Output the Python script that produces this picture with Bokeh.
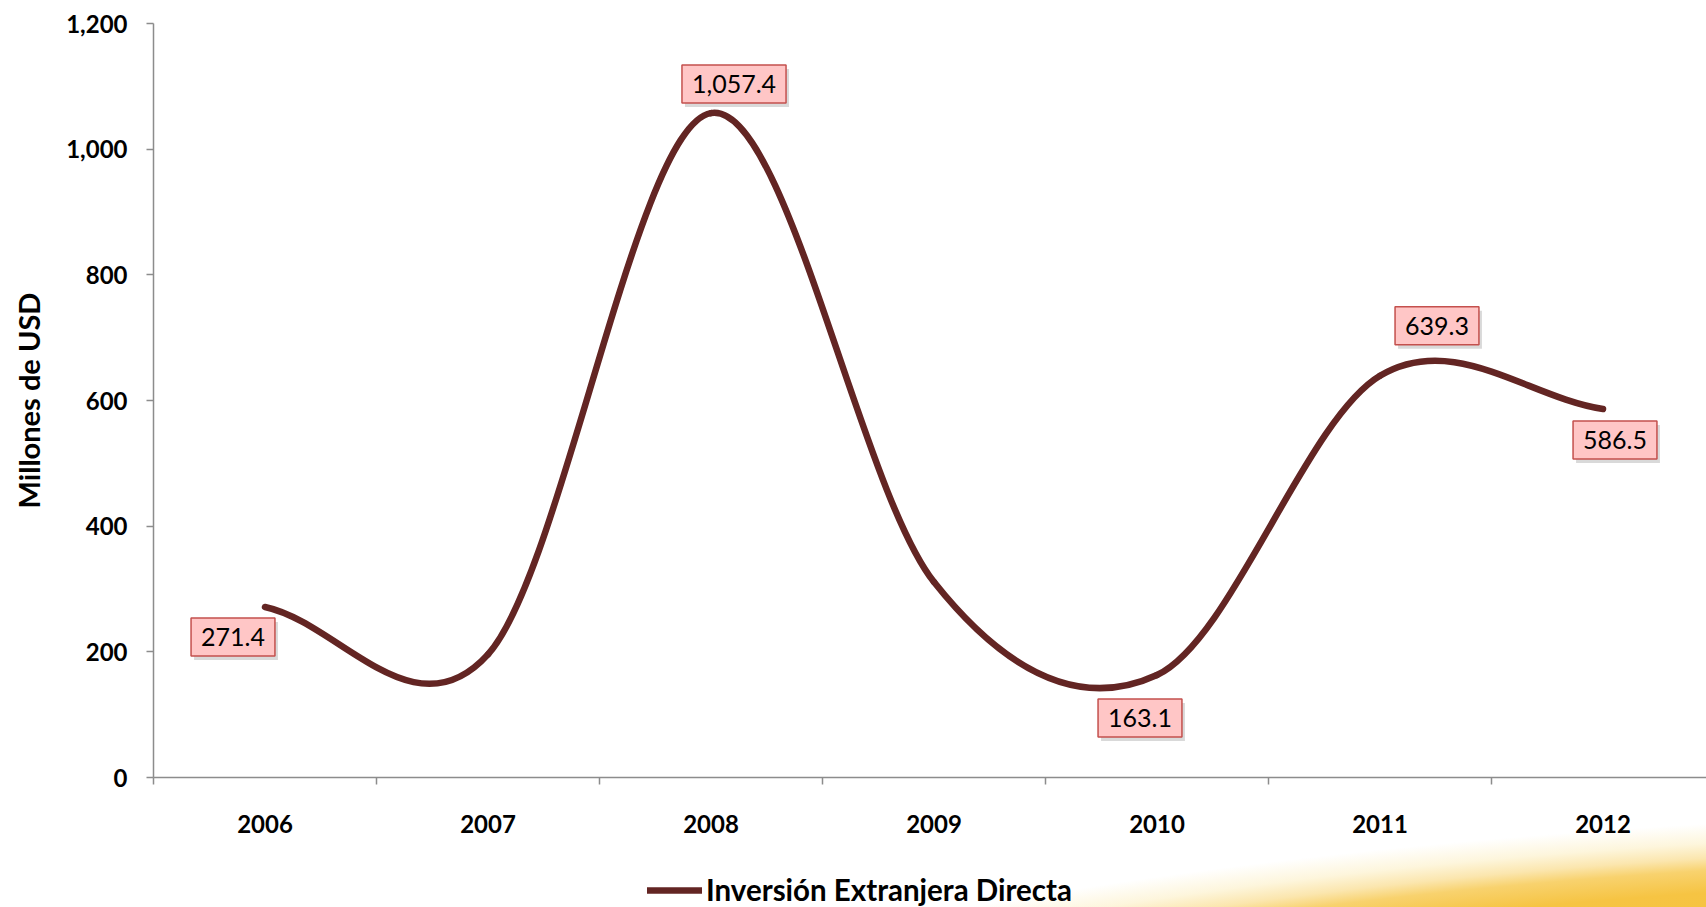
import numpy as np
from bokeh.plotting import figure
from bokeh.layouts import column
from bokeh.models import (Range1d, FixedTicker, NumeralTickFormatter, Legend, LegendItem,
                          ColumnDataSource, InlineStyleSheet)
from bokeh.core.properties import value
from bokeh.embed import file_html
from bokeh.resources import INLINE

# ---------------- data ----------------
years = ["2006", "2007", "2008", "2009", "2010", "2011", "2012"]
ied = [271.4, 196.0, 1057.4, 311.0, 163.1, 639.3, 586.5]
label_years = ["2006", "2008", "2010", "2011", "2012"]
y_ticks = [0, 200, 400, 600, 800, 1000, 1200]
series_name = "Inversión Extranjera Directa"
y_title = "Millones de USD"

# ---------------- style ----------------
FONT = "Lato"
LINE_COLOR = "#632523"
AXIS_COLOR = "#8C8C8C"
# label box offsets in screen px (per labelled year)
label_dx = [-32, 23, -17, 57, 12]
label_dy = [30, -29, 43, -50, 31]

n = len(years)
xs = np.arange(n) + 0.5
ys = np.array(ied, dtype=float)

# smoothed line (Catmull-Rom style bezier, like a spreadsheet "smoothed line")
T = np.zeros(n)
T[1:-1] = (ys[2:] - ys[:-2]) / 2.0
T[0] = ys[1] - ys[0]
T[-1] = ys[-1] - ys[-2]
seg = ColumnDataSource(dict(
    x0=xs[:-1], y0=ys[:-1], x1=xs[1:], y1=ys[1:],
    cx0=xs[:-1] + 1 / 3, cy0=ys[:-1] + T[:-1] / 3,
    cx1=xs[1:] - 1 / 3, cy1=ys[1:] - T[1:] / 3,
))

W, LEFT, TOP, MAIN_H, LEG_H = 1706, 153, 23, 860, 47
ZERO_Y = 777
x_end = (W - LEFT) / 223.0

p = figure(width=W, height=MAIN_H, x_range=Range1d(0, x_end), y_range=Range1d(0, 1200),
           output_backend="svg", toolbar_location=None,
           min_border_left=LEFT, min_border_right=0, min_border_top=TOP,
           min_border_bottom=MAIN_H - ZERO_Y)
p.outline_line_color = None
p.xgrid.grid_line_color = None
p.ygrid.grid_line_color = None
p.background_fill_color = "white"
p.border_fill_alpha = 0.0

p.bezier(x0="x0", y0="y0", x1="x1", y1="y1", cx0="cx0", cy0="cy0", cx1="cx1", cy1="cy1",
         source=seg, line_color=LINE_COLOR, line_width=6.5, line_cap="round")

# data labels
idx = [years.index(yv) for yv in label_years]
lab = ColumnDataSource(dict(
    x=xs[idx], y=ys[idx],
    text=[f"{ied[i]:,.1f}" for i in idx],
    dx=label_dx, dy=label_dy,
    sdx=[d + 3 for d in label_dx], sdy=[d + 4 for d in label_dy],
))
p.text(x="x", y="y", text="text", x_offset="sdx", y_offset="sdy", source=lab,
       text_font=value(FONT), text_font_size="25px", text_align="center",
       text_baseline="middle", text_alpha=0, background_fill_color="#000000",
       background_fill_alpha=0.15, padding=(10, 10))
p.text(x="x", y="y", text="text", x_offset="dx", y_offset="dy", source=lab,
       text_font=value(FONT), text_font_size="25px", text_align="center",
       text_baseline="middle", text_color="black",
       background_fill_color="#FFC6C6", border_line_color="#C4504D",
       border_line_width=1.5, padding=(10, 10))

# axes
xa = p.xaxis[0]
xa.ticker = FixedTicker(ticks=list(xs), minor_ticks=list(range(0, 8)))
xa.major_label_overrides = {float(x): yv for x, yv in zip(xs, years)}
xa.major_tick_line_color = None
xa.major_tick_out = 0
xa.major_tick_in = 0
xa.minor_tick_line_color = AXIS_COLOR
xa.minor_tick_line_width = 1.5
xa.minor_tick_out = 7
xa.minor_tick_in = 0
xa.axis_line_color = AXIS_COLOR
xa.axis_line_width = 1.5
xa.major_label_text_font = FONT
xa.major_label_text_font_style = "bold"
xa.major_label_text_font_size = "24px"
xa.major_label_text_color = "black"
xa.major_label_standoff = 30

ya = p.yaxis[0]
ya.ticker = FixedTicker(ticks=y_ticks)
ya.formatter = NumeralTickFormatter(format="0,0")
ya.minor_tick_line_color = None
ya.major_tick_line_color = AXIS_COLOR
ya.major_tick_line_width = 1.5
ya.major_tick_out = 7
ya.major_tick_in = 0
ya.axis_line_color = AXIS_COLOR
ya.axis_line_width = 1.5
ya.major_label_text_font = FONT
ya.major_label_text_font_style = "bold"
ya.major_label_text_font_size = "24px"
ya.major_label_text_color = "black"
ya.major_label_standoff = 19
ya.axis_label = y_title
ya.axis_label_text_font = FONT
ya.axis_label_text_font_style = "bold"
ya.axis_label_text_font_size = "29px"
ya.axis_label_text_color = "black"
ya.axis_label_standoff = 17

# legend strip below the chart (its frame is aligned with the chart frame)
q = figure(width=W, height=LEG_H, x_range=Range1d(0, 1), y_range=Range1d(0, 1),
           output_backend="svg", toolbar_location=None,
           x_axis_location=None, y_axis_location=None,
           min_border_left=0, min_border_right=0, min_border_top=0, min_border_bottom=0)
q.outline_line_color = None
q.xgrid.grid_line_color = None
q.ygrid.grid_line_color = None
q.background_fill_alpha = 0.0
q.border_fill_alpha = 0.0
key = q.line(x=[np.nan], y=[np.nan], line_color=LINE_COLOR, line_width=6.5, line_cap="round")
legend = Legend(items=[LegendItem(label=series_name, renderers=[key])],
                location=(494, 0), orientation="horizontal",
                padding=0, margin=0, spacing=0, border_line_color=None,
                background_fill_alpha=0, glyph_width=55, glyph_height=30,
                label_height=30, label_standoff=4,
                label_text_font=FONT, label_text_font_style="bold",
                label_text_font_size="29.5px", label_text_color="black")
q.add_layout(legend, "center")

layout = column(p, q, spacing=0)
# decorative golden swoosh in the bottom-right corner (page background)
layout.stylesheets = [InlineStyleSheet(css="""
:host {
  background-color: #ffffff;
  background-image: radial-gradient(1900px 480px at 2150px 1325px,
      #F3B51F 0%, #F6C443 93%, #F8D26E 97.5%, #FBE6AE 100%,
      rgba(253,244,214,0.85) 103%, rgba(255,255,255,0) 107%);
  background-repeat: no-repeat;
}
""")]

open("out.html", "w").write(file_html(layout, INLINE))
